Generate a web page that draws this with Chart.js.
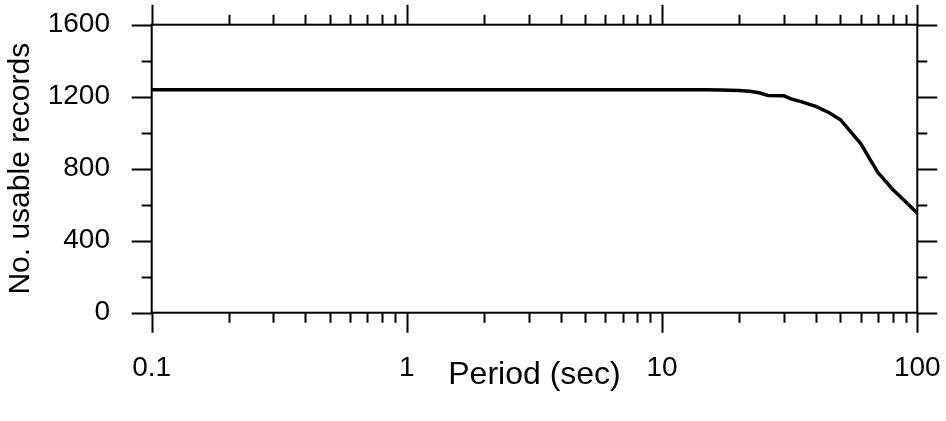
<!DOCTYPE html>
<html>
<head>
<meta charset="utf-8">
<script src="https://cdn.jsdelivr.net/npm/chart.js@4/dist/chart.umd.min.js"></script>
<style>
  html, body { margin: 0; padding: 0; background: #fff; }
  canvas { display: block; }
</style>
</head>
<body>
<canvas id="chart" width="946" height="421"></canvas>
<script>
const periods = [0.1, 0.15, 0.2, 0.3, 0.5, 0.75, 1, 1.5, 2, 3, 4, 5, 7.5, 10, 12, 15, 17,
  20, 22, 24, 26, 30, 32, 35, 40, 45, 50, 60, 70, 80, 90, 100];
const records = [1238, 1238, 1238, 1238, 1238, 1238, 1238, 1238, 1238, 1238, 1238, 1238, 1238, 1238, 1238, 1238, 1237,
  1235, 1230, 1222, 1207, 1205, 1188, 1173, 1146, 1112, 1072, 940, 780, 686, 616, 553];

const xMajor = [0.1, 1, 10, 100];
const xMinor = [0.2, 0.3, 0.4, 0.5, 0.6, 0.7, 0.8, 0.9, 2, 3, 4, 5, 6, 7, 8, 9, 20, 30, 40, 50, 60, 70, 80, 90];
const yMajor = [0, 400, 800, 1200, 1600];
const yMinor = [200, 600, 1000, 1400];

const family = '"Liberation Sans", Arial, sans-serif';
const font = {family, size: 28};

// invisible tick marks, only used to push the labels away from the frame
const spacer = len => ({
  display: true,
  drawOnChartArea: false,
  drawTicks: true,
  tickLength: len,
  color: 'rgba(0,0,0,0)',
});

// frame with outward ticks on all four sides
const frameTicks = {
  id: 'frameTicks',
  afterDraw(chart) {
    const {ctx, chartArea: a, scales: {x, y}} = chart;
    const major = 20, minor = 10;
    ctx.save();
    ctx.strokeStyle = '#000';
    ctx.lineWidth = 2;
    ctx.lineCap = 'butt';
    ctx.strokeRect(a.left, a.top, a.right - a.left, a.bottom - a.top);
    ctx.beginPath();
    const xTick = (v, len) => {
      const px = Math.round(x.getPixelForValue(v)) + 0.5;
      ctx.moveTo(px, a.bottom); ctx.lineTo(px, a.bottom + len);
      ctx.moveTo(px, a.top); ctx.lineTo(px, a.top - len);
    };
    const yTick = (v, len) => {
      const py = Math.round(y.getPixelForValue(v)) + 0.5;
      ctx.moveTo(a.left, py); ctx.lineTo(a.left - len, py);
      ctx.moveTo(a.right, py); ctx.lineTo(a.right + len, py);
    };
    xMajor.forEach(v => xTick(v, major));
    xMinor.forEach(v => xTick(v, minor));
    yMajor.forEach(v => yTick(v, major));
    yMinor.forEach(v => yTick(v, minor));
    ctx.stroke();
    ctx.restore();
  }
};

new Chart(document.getElementById('chart'), {
  type: 'line',
  data: {
    datasets: [{
      data: periods.map((p, i) => ({x: p, y: records[i]})),
      borderColor: '#000',
      borderWidth: 3.5,
      pointRadius: 0,
      fill: false,
      tension: 0,
    }]
  },
  options: {
    responsive: false,
    animation: false,
    devicePixelRatio: 1,
    layout: {padding: {top: 24.7, right: 28.7, left: 0, bottom: 0}},
    plugins: {legend: {display: false}, tooltip: {enabled: false}},
    scales: {
      x: {
        type: 'logarithmic',
        min: 0.1,
        max: 100,
        grid: spacer(38.5),
        border: {display: false},
        afterBuildTicks: scale => { scale.ticks = xMajor.map(v => ({value: v})); },
        afterFit: scale => { scale.height = 108.3; },
        ticks: {
          autoSkip: false,
          maxRotation: 0,
          padding: 0,
          color: '#000',
          font: font,
          callback: v => String(v),
        },
        title: {display: true, text: 'Period (sec)', color: '#000', font: {family, size: 32},
          padding: {top: 0, bottom: 27}},
      },
      y: {
        type: 'linear',
        min: 0,
        max: 1600,
        grid: spacer(41.7),
        border: {display: false},
        afterBuildTicks: scale => { scale.ticks = yMajor.map(v => ({value: v})); },
        afterFit: scale => { scale.width = 151.7; },
        ticks: {
          padding: 0,
          color: '#000',
          font: font,
          callback: v => String(v),
        },
        title: {display: true, text: 'No. usable records', color: '#000', font: {family, size: 30},
          padding: {top: 3, bottom: 0}},
      },
    },
  },
  plugins: [frameTicks],
});
</script>
</body>
</html>
